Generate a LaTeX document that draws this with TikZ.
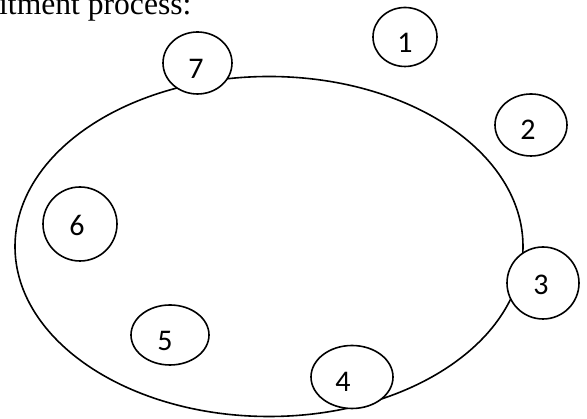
\documentclass[tikz,border=0pt]{standalone}
\usepackage{fontspec}
\setmainfont{Liberation Serif}
\newfontfamily\numfont{Carlito}
\usetikzlibrary{shapes.geometric}
\tikzset{
  big/.style={draw, ellipse, line width=1.6pt, inner sep=0pt},
  small/.style={draw, ellipse, fill=white, line width=1.6pt, inner sep=0pt},
  num/.style={font=\numfont\fontsize{30}{34}\selectfont, inner sep=0pt}
}
\begin{document}
\begin{tikzpicture}[x=1pt,y=1pt]
\useasboundingbox (0,0) rectangle (587,419);
\node[anchor=base west, inner sep=0pt, font=\fontsize{31.6}{36}\selectfont] (title) at (-1,404) {itment process:};
\node[big, minimum width=508pt, minimum height=340pt] (ring) at (269,172.5) {};
\node[small, minimum width=64pt, minimum height=59pt] (c1) at (405,382) {};
\node[small, minimum width=72pt, minimum height=62pt] (c2) at (531,294) {};
\node[small, minimum width=72pt, minimum height=72pt] (c3) at (543,136) {};
\node[small, minimum width=82pt, minimum height=63pt] (c4) at (352,42) {};
\node[small, minimum width=78pt, minimum height=60pt] (c5) at (170,84) {};
\node[small, minimum width=74pt, minimum height=74pt] (c6) at (80,195) {};
\node[small, minimum width=69pt, minimum height=62pt] (c7) at (197.5,356) {};
\node[num] (n1) at ([yshift=-6pt]c1.center) {1};
\node[num] (n2) at ([xshift=-3pt,yshift=-5pt]c2.center) {2};
\node[num] (n3) at ([xshift=-2pt,yshift=-2pt]c3.center) {3};
\node[num] (n4) at ([xshift=-9pt,yshift=-5pt]c4.center) {4};
\node[num] (n5) at ([xshift=-5pt,yshift=-6pt]c5.center) {5};
\node[num] (n6) at ([xshift=-3pt,yshift=-1pt]c6.center) {6};
\node[num] (n7) at ([xshift=-1.5pt,yshift=-6pt]c7.center) {7};
\end{tikzpicture}
\end{document}
